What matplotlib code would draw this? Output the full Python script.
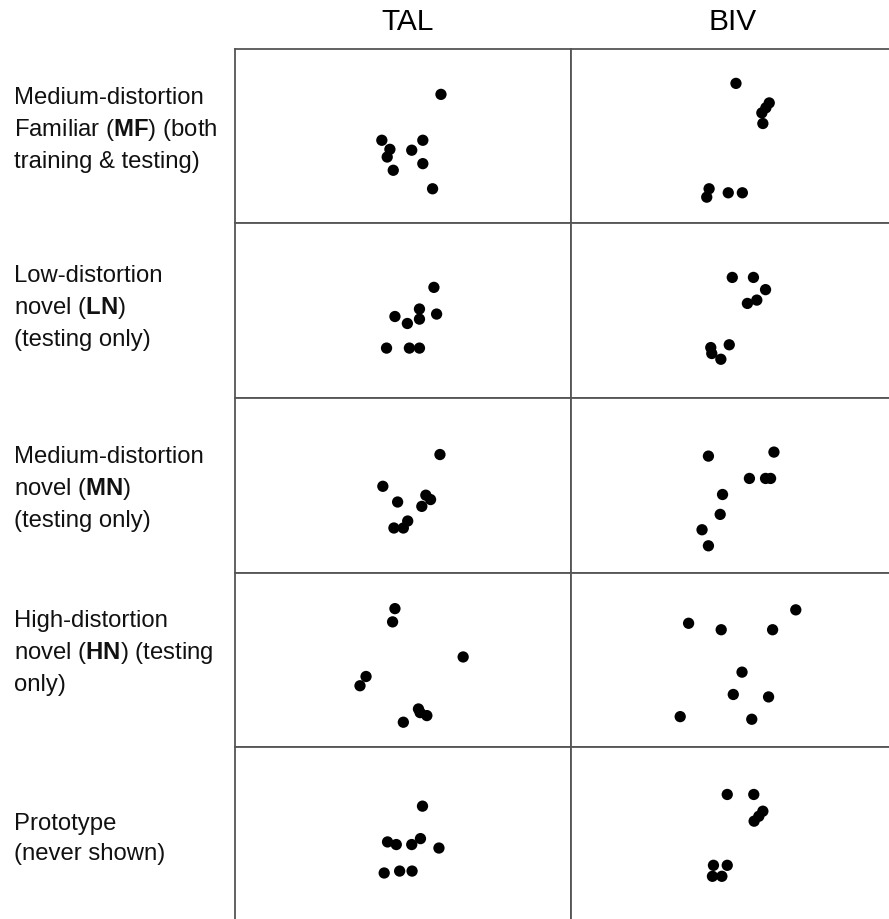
import numpy as np
import matplotlib
matplotlib.use("Agg")
import matplotlib.pyplot as plt

plt.rcParams['font.family'] = ['Liberation Sans', 'DejaVu Sans']
plt.rcParams['mathtext.fontset'] = 'custom'
plt.rcParams['mathtext.rm'] = 'Liberation Sans'
plt.rcParams['mathtext.bf'] = 'Liberation Sans:bold'

# column / row labels
columns = ['TAL', 'BIV']
row_labels = [
    'Medium-distortion\nFamiliar ($\\mathbf{MF}$) (both\ntraining & testing)',
    'Low-distortion\nnovel ($\\mathbf{LN}$)\n(testing only)',
    'Medium-distortion\nnovel ($\\mathbf{MN}$)\n(testing only)',
    'High-distortion\nnovel ($\\mathbf{HN}$) (testing\nonly)',
    'Prototype\n(never shown)',
]

# dot positions inside each cell (0-100 in x and y)
tal_mf_x = [61.3, 43.7, 46.1, 45.3, 47.1, 52.6, 55.9, 55.9, 58.8]
tal_mf_y = [74.0, 47.7, 42.5, 38.1, 30.5, 42.0, 47.7, 34.3, 19.9]
biv_mf_x = [49.1, 59.0, 58.0, 56.8, 57.1, 41.1, 40.4, 46.8, 51.0]
biv_mf_y = [80.3, 69.1, 66.3, 63.4, 57.3, 19.9, 15.1, 17.6, 17.6]

tal_ln_x = [59.2, 47.6, 51.3, 54.9, 54.9, 60.0, 45.1, 51.9, 54.9]
tal_ln_y = [63.4, 46.7, 42.7, 51.0, 45.2, 48.1, 28.6, 28.6, 28.6]
biv_ln_x = [48.0, 54.3, 57.9, 55.3, 52.5, 47.1, 41.6, 41.9, 44.6]
biv_ln_y = [69.1, 69.1, 62.1, 56.1, 54.2, 30.5, 28.9, 25.5, 22.2]

tal_mn_x = [61.0, 44.0, 48.4, 56.8, 58.2, 55.6, 51.4, 50.1, 47.3]
tal_mn_y = [67.6, 49.4, 40.4, 44.3, 41.8, 37.9, 29.5, 25.5, 25.5]
biv_mn_x = [40.9, 60.4, 53.1, 57.9, 59.4, 45.1, 44.4, 39.0, 40.9]
biv_mn_y = [66.7, 69.0, 53.9, 53.9, 53.9, 44.7, 33.3, 24.5, 15.3]

tal_hn_x = [47.6, 46.9, 67.9, 39.0, 37.2, 54.6, 55.1, 57.1, 50.1]
tal_hn_y = [79.3, 71.7, 51.6, 40.4, 35.1, 21.8, 19.7, 18.0, 14.2]
biv_hn_x = [66.9, 35.0, 44.7, 60.0, 50.9, 48.3, 58.8, 32.5, 53.8]
biv_hn_y = [78.6, 70.9, 67.2, 67.2, 42.9, 30.1, 28.7, 17.4, 15.9]

tal_pr_x = [55.8, 45.4, 48.0, 52.6, 55.2, 60.7, 44.4, 49.0, 52.7]
tal_pr_y = [66.1, 45.6, 44.1, 44.1, 47.5, 42.1, 27.8, 28.9, 28.9]
biv_pr_x = [46.5, 54.4, 57.1, 55.9, 54.5, 42.4, 46.5, 42.1, 44.9]
biv_pr_y = [72.8, 72.8, 63.2, 60.3, 57.5, 32.2, 32.2, 25.9, 25.9]

points = [
    [(tal_mf_x, tal_mf_y), (biv_mf_x, biv_mf_y)],
    [(tal_ln_x, tal_ln_y), (biv_ln_x, biv_ln_y)],
    [(tal_mn_x, tal_mn_y), (biv_mn_x, biv_mn_y)],
    [(tal_hn_x, tal_hn_y), (biv_hn_x, biv_hn_y)],
    [(tal_pr_x, tal_pr_y), (biv_pr_x, biv_pr_y)],
]

W, H = 889, 919
fig = plt.figure(figsize=(W / 100, H / 100), dpi=100)

# grid layout in pixels
col_left = [235, 571]
cell_w = 336
cell_h = 174.5
row_top = [49 + r * cell_h for r in range(5)]
label_y = [130, 308, 489, 653, 839]
line_col = '#555555'

for r in range(5):
    for c in range(2):
        ax = fig.add_axes([col_left[c] / W, 1 - (row_top[r] + cell_h) / H,
                           cell_w / W, cell_h / H])
        xs, ys = points[r][c]
        ax.scatter(xs, ys, s=66, color='black', edgecolors='none', zorder=3)
        ax.set_xlim(0, 100)
        ax.set_ylim(0, 100)
        ax.set_xticks([])
        ax.set_yticks([])
        for sp in ax.spines.values():
            sp.set_color(line_col)
            sp.set_linewidth(1.3)

# column headers
header_x = [408, 733]
for name, hx in zip(columns, header_x):
    fig.text(hx / W, 1 - 22 / H, name, ha='center', va='center', fontsize=21.5)

# row labels
for lab, ly in zip(row_labels, label_y):
    fig.text(14 / W, 1 - ly / H, lab, ha='left', va='center',
             fontsize=17.2, linespacing=1.42, color='#111111')

fig.savefig('out.png', dpi=100)
